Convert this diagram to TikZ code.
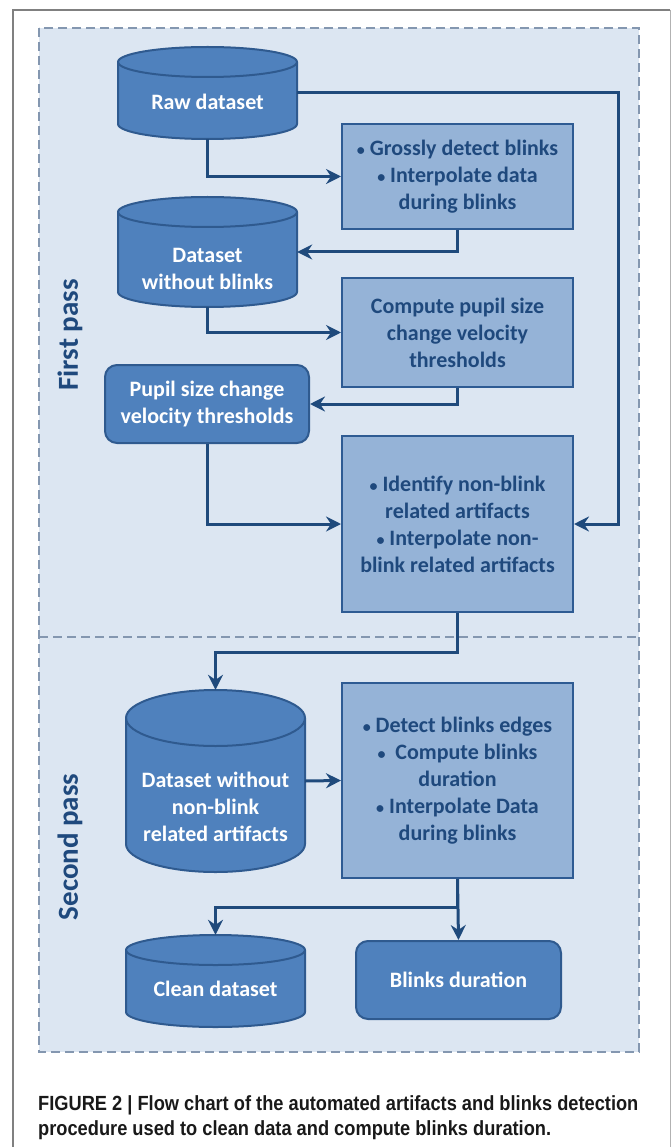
\documentclass[tikz,border=0pt]{standalone}
\usepackage{fontspec}
\setmainfont{Carlito}
\newfontfamily\capfont[FakeStretch=0.89]{Liberation Sans}
\usetikzlibrary{arrows.meta,positioning}
\definecolor{passfill}{HTML}{DCE6F2}
\definecolor{passline}{HTML}{8497B0}
\definecolor{procfill}{HTML}{95B3D7}
\definecolor{procline}{HTML}{2E5B93}
\definecolor{datafill}{HTML}{4F81BD}
\definecolor{dataline}{HTML}{2F5A8F}
\definecolor{flow}{HTML}{1F4A7C}
\definecolor{passtext}{HTML}{1F497D}
% drum outline: center x, top, bottom, half width, cap radius
\newcommand\drum[5]{%
  \filldraw[draw=dataline, fill=datafill, line width=2pt]
    (#1-#4,#2+#5) -- (#1-#4,#3-#5)
    arc[start angle=180, end angle=0, x radius=#4, y radius=#5]
    -- (#1+#4,#2+#5)
    arc[start angle=0, end angle=-180, x radius=#4, y radius=#5] -- cycle;
  \draw[dataline, line width=2pt] (#1-#4,#2+#5)
    arc[start angle=180, end angle=0, x radius=#4, y radius=#5];}
\newcommand\lowr[1]{\rule{0pt}{#1pt}}
\newcommand\bul{{\fontsize{16}{16}\selectfont •}}
\tikzset{
  boxfont/.style={font=\fontsize{22}{27}\selectfont\bfseries},
  proc/.style={rectangle, draw=procline, fill=procfill, line width=2pt,
    minimum width=231pt, text=passtext, align=center, boxfont},
  data/.style={rectangle, inner sep=0pt, minimum width=179pt, text=white,
    align=center, boxfont},
  result/.style={rectangle, rounded corners=12pt, draw=dataline, fill=datafill,
    line width=2pt, minimum height=78pt, text=white, align=center, boxfont},
  flowline/.style={draw=flow, line width=3pt,
    -{Stealth[length=15pt,width=15pt,inset=5pt]}},
  passlabel/.style={rotate=90, text=passtext, font=\fontsize{29}{34}\selectfont\bfseries},
  caption/.style={anchor=base west, inner sep=0pt, text=black!90,
    font=\capfont\fontsize{20.5}{25}\selectfont\bfseries}
}
\begin{document}
\begin{tikzpicture}[x=1pt,y=-1pt]
  \useasboundingbox (0,0) rectangle (671,1147);
  \draw[gray, line width=2pt] (13,1147) -- (13,10) -- (670,10);
  \draw[gray!60, line width=1pt] (670,10) -- (670,1147);
  \draw[passline, fill=passfill, dashed, dash pattern=on 9pt off 5pt, line width=1.3pt]
    (39,28) rectangle (639,1052);
  \draw[passline, dashed, dash pattern=on 9pt off 5pt, line width=1.3pt] (39,637) -- (639,637);

  \node (first) [passlabel] at (70,335) {First pass};
  \node (second) [passlabel] at (70,847) {Second pass};

  \drum{207.5}{47}{139}{89.5}{15}
  \drum{207.5}{197}{307}{89.5}{15}
  \drum{215.5}{690}{872}{89.5}{28}
  \drum{215.5}{935}{1027}{89.5}{15}

  \node (raw) [data, minimum height=92pt] at (207.5,93) {\lowr{33.5}Raw dataset};
  \node (gross) [proc, minimum height=105pt] at (457.5,176.5)
    {\bul\ Grossly detect blinks\\\bul\ Interpolate data\\during blinks};
  \node (noblink) [data, minimum height=110pt] at (207.5,252) {\lowr{48.5}Dataset\\without blinks};
  \node (thresh) [proc, minimum height=109pt] at (457.5,332.5)
    {Compute pupil size\\change velocity\\thresholds};
  \node (pupil) [result, minimum width=204pt] at (207,404)
    {Pupil size change\\velocity thresholds};
  \node (ident) [proc, minimum height=176pt] at (457.5,524)
    {\bul\ Identify non-blink\\related artifacts\\\bul\ Interpolate non-\\blink related artifacts};
  \node (noart) [data, minimum height=182pt] at (215.5,781)
    {\lowr{67.5}Dataset without\\non-blink\\related artifacts};
  \node (edges) [proc, minimum height=195pt] at (457.5,780.5)
    {\bul\ Detect blinks edges\\\bul\ \ Compute blinks\\duration\\\bul\ Interpolate Data\\during blinks};
  \node (clean) [data, minimum height=92pt] at (215.5,981) {\lowr{31.5}Clean dataset};
  \node (duration) [result, minimum width=205pt] at (458.5,980) {Blinks duration};

  \node (cap1) [caption] at (38,1110)
    {FIGURE 2 | Flow chart of the automated artifacts and blinks detection};
  \node (cap2) [caption] at (38,1135)
    {procedure used to clean data and compute blinks duration.};

  \draw[flowline] (raw.south) |- (gross.west);
  \draw[flowline] (raw.east) -- ++(321,0) |- (ident.east);
  \draw[flowline] (gross.south) |- (noblink.east);
  \draw[flowline] (noblink.south) |- (thresh.west);
  \draw[flowline] (thresh.south) |- (pupil.east);
  \draw[flowline] (pupil.south) |- (ident.west);
  \draw[flowline] (ident.south) -- ++(0,39) -| (noart.north);
  \draw[flowline] (noart.east) -- (edges.west);
  \draw[flowline] (edges.south) -- ++(0,28) -| (clean.north);
  \draw[flowline] (edges.south) -- (duration.north);
\end{tikzpicture}
\end{document}
